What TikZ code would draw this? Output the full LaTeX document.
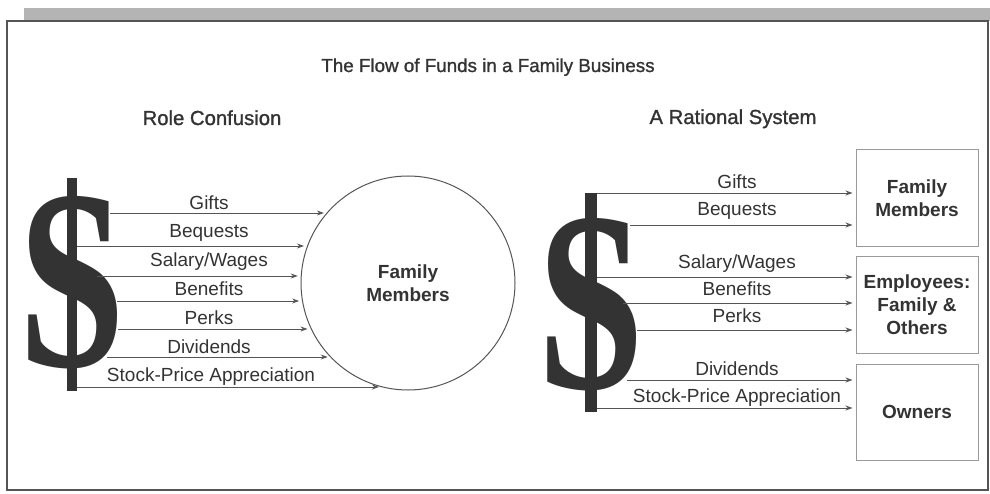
\documentclass[tikz,border=0pt]{standalone}
\usepackage{fontspec}
\setmainfont{Liberation Sans}
\newfontfamily\dollarfont{Liberation Serif}
\newfontfamily\headfont[FakeBold=1.2]{Liberation Sans}
\usetikzlibrary{arrows.meta,positioning}
\definecolor{ink}{HTML}{333333}
\definecolor{wire}{HTML}{555555}
\definecolor{rim}{HTML}{9A9A9A}
\definecolor{band}{HTML}{B4B4B4}

\begin{document}
\begin{tikzpicture}[x=1pt,y=-1pt,
  lbl/.style={anchor=base,inner sep=0pt,text=ink,font=\fontsize{19}{23}\selectfont},
  head/.style={anchor=base,inner sep=0pt,text=ink,font=\fontsize{20.3}{23}\selectfont\headfont},
  tbox/.style={draw=rim,line width=1pt,minimum width=122pt,minimum height=96pt,align=center,text=ink,font=\fontsize{19}{23}\selectfont\bfseries},
  flow/.style={->,draw=wire,line width=0.9pt,shorten >=3pt},
  dollar/.style={inner sep=0pt,text=ink,font=\fontsize{257}{257}\selectfont\dollarfont\bfseries},
  >={Stealth[length=7pt,width=5pt]}]
\useasboundingbox (0,0) rectangle (990,494);
% page frame with the shaded strip on top
\fill[band] (24,8) rectangle (990,21);
\draw[wire,line width=1.3pt] (7,21) rectangle (988,490);

\node[head,font=\fontsize{18.8}{23}\selectfont\headfont] (title) at (488,72) {The Flow of Funds in a Family Business};
\node[head] (hleft) at (212,125) {Role Confusion};
\node[head] (hright) at (733,124) {A Rational System};

% left: everything flows into one circle
\node[dollar] (sl) at (72,283) {\scalebox{0.75}[1]{S}};
\fill[ink] (67,178) rectangle (77,391);
\node[circle,draw=wire,line width=1pt,minimum size=214pt,inner sep=0pt,text=ink,
  align=center,font=\fontsize{19}{23}\selectfont\bfseries] (circ) at (408,283) {Family\\Members};

\coordinate (a1) at (110,213); \coordinate (a2) at (77,246);
\coordinate (a3) at (97,276);  \coordinate (a4) at (117,301);
\coordinate (a5) at (118,329); \coordinate (a6) at (107,357);
\coordinate (a7) at (77,387);
\draw[flow] (a1) -- (a1 -| circ.139);
\draw[flow] (a2) -- (a2 -| circ.160);
\draw[flow] (a3) -- (a3 -| circ.176);
\draw[flow] (a4) -- (a4 -| circ.190);
\draw[flow] (a5) -- (a5 -| circ.205);
\draw[flow] (a6) -- (a6 -| circ.224);
\draw[flow] (a7) -- (a7 -| circ.256);
\node[lbl] (lgift) at (209,210) {Gifts};
\node[lbl] (lbeq) at (209,238) {Bequests};
\node[lbl] (lsal) at (209,267) {Salary/Wages};
\node[lbl] (lben) at (209,295) {Benefits};
\node[lbl] (lperk) at (209,324) {Perks};
\node[lbl] (ldiv) at (209,353) {Dividends};
\node[lbl] (lstock) at (211,381) {Stock-Price Appreciation};

% right: each flow goes to its own box
\node[dollar] (sr) at (591,305) {\scalebox{0.75}[1]{S}};
\fill[ink] (585,193) rectangle (597,412);
\node[tbox,minimum height=97pt] (fam) at (917,198.5) {Family\\Members};
\node[tbox,below=9pt of fam] (emp) {Employees:\\Family \&\\Others};
\node[tbox,below=10pt of emp] (own) {Owners};

\coordinate (b1) at (597,193); \coordinate (b2) at (630,225);
\coordinate (b3) at (597,277); \coordinate (b4) at (623,303);
\coordinate (b5) at (637,330); \coordinate (b6) at (627,380);
\coordinate (b7) at (597,408);
\draw[flow] (b1) -- (b1 -| fam.west);
\draw[flow] (b2) -- (b2 -| fam.west);
\draw[flow] (b3) -- (b3 -| emp.west);
\draw[flow] (b4) -- (b4 -| emp.west);
\draw[flow] (b5) -- (b5 -| emp.west);
\draw[flow] (b6) -- (b6 -| own.west);
\draw[flow] (b7) -- (b7 -| own.west);
\node[lbl] (rgift) at (737,189) {Gifts};
\node[lbl] (rbeq) at (737,216) {Bequests};
\node[lbl] (rsal) at (737,269) {Salary/Wages};
\node[lbl] (rben) at (737,295) {Benefits};
\node[lbl] (rperk) at (737,322) {Perks};
\node[lbl] (rdiv) at (737,375) {Dividends};
\node[lbl] (rstock) at (737,402) {Stock-Price Appreciation};
\end{tikzpicture}
\end{document}
